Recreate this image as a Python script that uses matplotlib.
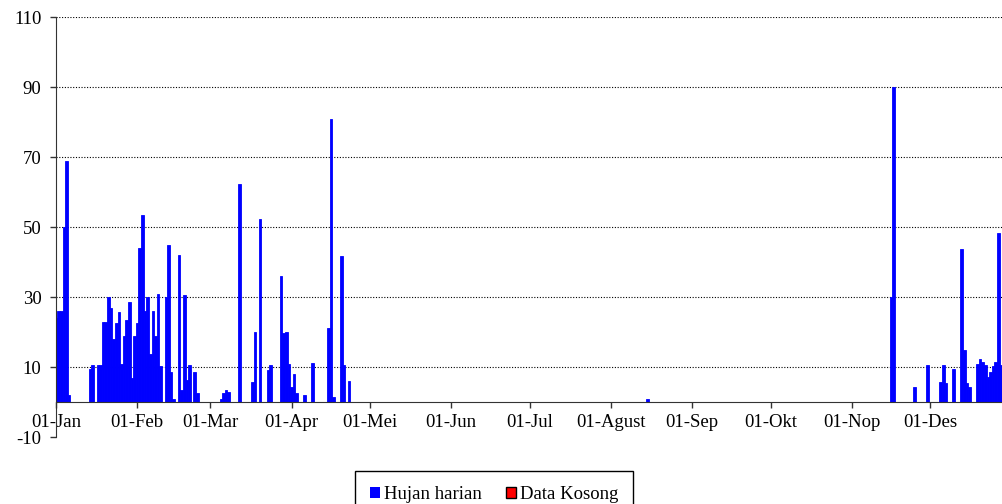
import numpy as np
import pandas as pd
import matplotlib
matplotlib.use("Agg")
import matplotlib.pyplot as plt
import matplotlib.dates as mdates
from matplotlib.patches import Rectangle

# ── Data (curah hujan harian, mm) ─────────────────────────────────────────────
YEAR = 2001
tanggal = [
    "01-01", "01-02", "01-03", "01-04", "01-05", "01-06",
    "01-14", "01-15", "01-17", "01-18", "01-19", "01-20", "01-21", "01-22",
    "01-23", "01-24", "01-25", "01-26", "01-27", "01-28", "01-29", "01-30",
    "01-31",
    "02-01", "02-02", "02-03", "02-04", "02-05", "02-06", "02-07", "02-08",
    "02-09", "02-10", "02-12", "02-13", "02-14", "02-15", "02-17", "02-18",
    "02-19", "02-20", "02-21", "02-23", "02-24",
    "03-05", "03-06", "03-07", "03-08", "03-12", "03-17", "03-18", "03-20",
    "03-23", "03-24", "03-28", "03-29", "03-30", "03-31",
    "04-01", "04-02", "04-03", "04-06", "04-09", "04-15", "04-16", "04-17",
    "04-20", "04-21", "04-23",
    "08-15",
    "11-16", "11-17", "11-25", "11-30",
    "12-05", "12-06", "12-07", "12-10", "12-13", "12-14", "12-15", "12-16",
    "12-19", "12-20", "12-21", "12-22", "12-23", "12-24", "12-25", "12-26",
    "12-27", "12-28", "12-29",
]
hujan = [
    24, 26, 26, 50, 69, 2,
    9.4, 10.5, 10.5, 10.5, 23, 23, 30, 27,
    18, 22.6, 25.8, 11, 19, 23.4, 28.6, 7,
    19,
    22.5, 44, 53.4, 26, 30, 13.7, 26, 19,
    31, 10.4, 30, 45, 8.7, 1, 42, 3.4,
    30.5, 6.3, 10.6, 8.5, 2.7,
    1, 2.7, 3.4, 2.9, 62.3, 5.7, 20, 52.3,
    9.1, 10.6, 36, 19.7, 20, 11,
    4.4, 8, 2.7, 2, 11.2, 21.2, 80.8, 1.5,
    41.8, 10.6, 6,
    1,
    30, 90, 4.4, 10.6,
    5.8, 10.6, 5.4, 9.4, 43.6, 15, 5.5, 4.4,
    10.8, 12.2, 11.4, 10.6, 7.2, 8.7, 10.4, 11.3,
    48.2, 10.6, 10,
]
bulan = ["Jan", "Feb", "Mar", "Apr", "Mei", "Jun",
         "Jul", "Agust", "Sep", "Okt", "Nop", "Des"]
y_ticks = [-10, 10, 30, 50, 70, 90, 110]
grid_levels = [10, 30, 50, 70, 90, 110]

BLUE = "#0000ff"
RED = "#ff0000"
FONT = "Liberation Serif"
FS = 13.5

plt.rcParams["font.family"] = [FONT, "DejaVu Serif"]

dates = pd.to_datetime([f"{YEAR}-{t}" for t in tanggal])
start = pd.Timestamp(f"{YEAR}-01-01")
x0 = mdates.date2num(start)

# ── Figure ────────────────────────────────────────────────────────────────────
fig = plt.figure(figsize=(10.03, 5.04), dpi=100)
ax = fig.add_axes([56 / 1003, 1 - 437 / 504, 1 - 56 / 1003, 420 / 504])

ax.bar(dates, hujan, width=1.0, color=BLUE, edgecolor=BLUE, linewidth=0.6,
       align="center", zorder=2)

for g in grid_levels:
    ax.axhline(g, color="black", lw=0.8, ls=(0, (1, 1.5)), zorder=0)

# spine position first: it resets the ticks
for s in ("top", "right"):
    ax.spines[s].set_visible(False)
ax.spines["bottom"].set_position(("data", 0))
ax.spines["bottom"].set_color("#333333")
ax.spines["left"].set_color("#333333")

ax.set_xlim(x0, x0 + 361.8)
ax.set_ylim(-10, 110)
ax.set_yticks(y_ticks)
ax.set_yticklabels([str(v) for v in y_ticks])

month_starts = pd.date_range(start, periods=12, freq="MS")
ax.set_xticks(mdates.date2num(month_starts))
ax.set_xticklabels(["01-" + b for b in bulan])

ax.tick_params(axis="x", direction="out", length=4, width=1, pad=4.5,
               color="#333333", labelsize=FS)
ax.tick_params(axis="y", direction="out", length=4, width=1, pad=6.5,
               color="#333333", labelsize=FS)

# ── Legend ────────────────────────────────────────────────────────────────────
handles = [Rectangle((0, 0), 1, 1, facecolor=BLUE, edgecolor="none"),
           Rectangle((0, 0), 1, 1, facecolor=RED, edgecolor="black", linewidth=1)]
leg = fig.legend(handles, ["Hujan harian", "Data Kosong"], loc="upper center",
                 bbox_to_anchor=(494 / 1003, 1 - 471 / 504), ncol=2,
                 fontsize=FS, frameon=True, fancybox=False, shadow=False,
                 handlelength=0.55, handleheight=0.55, handletextpad=0.2,
                 columnspacing=1.3, borderpad=0.8, borderaxespad=0)
leg.get_frame().set_edgecolor("black")
leg.get_frame().set_linewidth(1)
leg.get_frame().set_alpha(1)

fig.savefig("out.png", dpi=100)
